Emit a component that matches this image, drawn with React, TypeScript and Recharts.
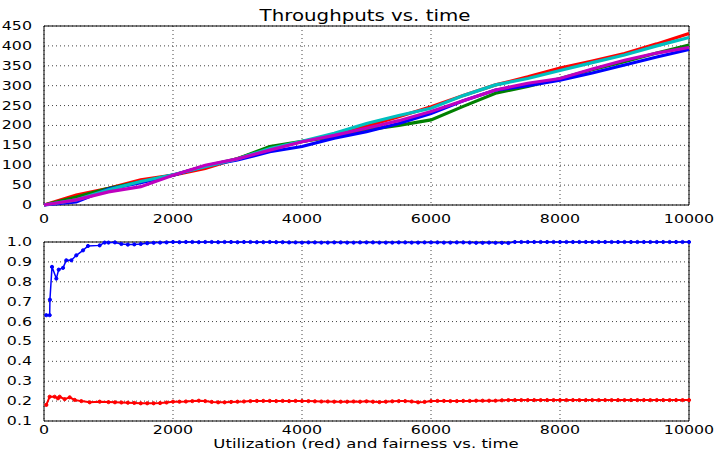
import { LineChart, Line, XAxis, YAxis, CartesianGrid, ReferenceArea } from "recharts";

// top panel: throughput per flow
const time = [0, 500, 1000, 1500, 2000, 2500, 3000, 3500, 4000, 4500, 5000, 5500, 6000, 6500, 7000, 7500, 8000, 8500, 9000, 9500, 10000];
const redTp = [0, 25, 42, 63, 75, 92, 117, 142, 159, 176, 198, 222, 247, 275, 302, 322, 344, 362, 381, 405, 431];
const greenTp = [0, 20, 42, 58, 75, 98, 116, 147, 160, 172, 189, 200, 214, 248, 281, 298, 318, 340, 360, 382, 402];
const blueTp = [0, 8, 40, 56, 75, 98, 113, 134, 147, 168, 184, 205, 230, 262, 289, 300, 314, 332, 352, 372, 391];
const cyanTp = [0, 13, 38, 59, 76, 96, 116, 142, 160, 180, 205, 225, 243, 275, 302, 318, 338, 358, 377, 400, 421];
const magentaTp = [0, 13, 33, 46, 75, 100, 116, 138, 159, 175, 193, 212, 235, 262, 289, 306, 318, 342, 364, 382, 396];

// bottom panel: fairness (blue) and utilization (red)
const fairTime = [
  36, 88, 92, 124, 191, 228, 295, 346, 424, 501, 605, 682, 863, 940,
  1000, 1100, 1200, 1300, 1400, 1500, 1600, 1700, 1800, 1900,
  2000, 2100, 2200, 2300, 2400, 2500, 2600, 2700, 2800, 2900,
  3000, 3100, 3200, 3300, 3400, 3500, 3600, 3700, 3800, 3900,
  4000, 4100, 4200, 4300, 4400, 4500, 4600, 4700, 4800, 4900,
  5000, 5100, 5200, 5300, 5400, 5500, 5600, 5700, 5800, 5900,
  6000, 6100, 6200, 6300, 6400, 6500, 6600, 6700, 6800, 6900,
  7000, 7100, 7200, 7300, 7400, 7500, 7600, 7700, 7800, 7900,
  8000, 8100, 8200, 8300, 8400, 8500, 8600, 8700, 8800, 8900,
  9000, 9100, 9200, 9300, 9400, 9500, 9600, 9700, 9800, 9900, 10000,
];
const fairness = [
  0.632, 0.632, 0.71, 0.875, 0.816, 0.861, 0.87, 0.908, 0.908, 0.933, 0.958, 0.98, 0.983, 0.997,
  0.997, 0.998, 0.99, 0.987, 0.988, 0.99, 0.994, 0.996, 0.997, 0.998,
  1.0, 0.999, 1.0, 1.0, 0.999, 1.0, 1.0, 0.999, 1.0, 1.0,
  0.999, 1.0, 1.0, 0.999, 0.999, 1.0, 0.999, 0.999, 0.998, 0.998,
  0.997, 0.998, 0.998, 0.997, 0.997, 0.998, 0.998, 0.997, 0.997, 0.998,
  0.998, 0.998, 0.997, 0.997, 0.997, 0.998, 0.998, 0.997, 0.997, 0.998,
  0.998, 0.998, 0.997, 0.997, 0.998, 0.998, 0.997, 0.996, 0.996, 0.997,
  0.996, 0.996, 0.995, 1.0, 1.0, 1.0, 1.0, 1.0, 1.0, 1.0,
  1.0, 1.0, 1.0, 1.0, 1.0, 1.0, 1.0, 1.0, 1.0, 1.0,
  1.0, 1.0, 1.0, 1.0, 1.0, 1.0, 1.0, 1.0, 1.0, 1.0, 1.0,
];
const utilTime = [
  36, 88, 165, 217, 243, 320, 398, 476, 579, 708, 863,
  1000, 1100, 1200, 1300, 1400, 1500, 1600, 1700, 1800, 1900,
  2000, 2100, 2200, 2300, 2400, 2500, 2600, 2700, 2800, 2900,
  3000, 3100, 3200, 3300, 3400, 3500, 3600, 3700, 3800, 3900,
  4000, 4100, 4200, 4300, 4400, 4500, 4600, 4700, 4800, 4900,
  5000, 5100, 5200, 5300, 5400, 5500, 5600, 5700, 5800, 5900,
  6000, 6100, 6200, 6300, 6400, 6500, 6600, 6700, 6800, 6900,
  7000, 7100, 7200, 7300, 7400, 7500, 7600, 7700, 7800, 7900,
  8000, 8100, 8200, 8300, 8400, 8500, 8600, 8700, 8800, 8900,
  9000, 9100, 9200, 9300, 9400, 9500, 9600, 9700, 9800, 9900, 10000,
];
const utilization = [
  0.181, 0.222, 0.222, 0.214, 0.222, 0.21, 0.219, 0.206, 0.2, 0.194, 0.197,
  0.195, 0.194, 0.193, 0.192, 0.191, 0.189, 0.189, 0.189, 0.19, 0.193,
  0.197, 0.197, 0.198, 0.2, 0.202, 0.2, 0.196, 0.194, 0.194, 0.196,
  0.197, 0.198, 0.2, 0.201, 0.201, 0.201, 0.2, 0.201, 0.2, 0.201,
  0.2, 0.2, 0.199, 0.198, 0.198, 0.197, 0.197, 0.197, 0.198, 0.197,
  0.199, 0.197, 0.195, 0.197, 0.199, 0.2, 0.2, 0.198, 0.194, 0.196,
  0.2, 0.201, 0.201, 0.2, 0.2, 0.201, 0.201, 0.202, 0.202, 0.202,
  0.202, 0.204, 0.205, 0.205, 0.205, 0.205, 0.205, 0.205, 0.205, 0.205,
  0.205, 0.205, 0.205, 0.205, 0.205, 0.205, 0.205, 0.205, 0.205, 0.205,
  0.205, 0.205, 0.205, 0.205, 0.205, 0.205, 0.205, 0.205, 0.205, 0.205, 0.205,
];

const xTicks = [0, 2000, 4000, 6000, 8000, 10000];
const tpTicks = [0, 50, 100, 150, 200, 250, 300, 350, 400, 450];
const fairTicks = [0.1, 0.2, 0.3, 0.4, 0.5, 0.6, 0.7, 0.8, 0.9, 1.0];

const FONT = "DejaVu Sans";
const STRETCH = 1.32;

const topData = time.map((t, i) => ({
  t,
  r: redTp[i],
  g: greenTp[i],
  b: blueTp[i],
  c: cyanTp[i],
  m: magentaTp[i],
}));
const fairData = fairTime.map((t, i) => ({ t, v: fairness[i] }));
const utilData = utilTime.map((t, i) => ({ t, v: utilization[i] }));

function XTick(props: any) {
  const { x, y, payload, shift = 10 } = props;
  return (
    <text transform={`translate(${x},${y + shift}) scale(${STRETCH},1)`} textAnchor="middle" fontSize={12} fontFamily={FONT} fill="#000">
      {payload.value}
    </text>
  );
}

function YTick(props: any) {
  const { x, y, payload, digits } = props;
  const label = digits ? Number(payload.value).toFixed(digits) : payload.value;
  return (
    <text transform={`translate(${x},${y + 4}) scale(${STRETCH},1)`} textAnchor="end" fontSize={12} fontFamily={FONT} fill="#000">
      {label}
    </text>
  );
}

const colors = { r: "#ff0000", g: "#008000", b: "#0000ff", c: "#00bfbf", m: "#bf00bf" };

export default function App() {
  return (
    <div style={{ position: "absolute", left: 0, top: 0, width: 717, height: 452, background: "#fff" }}>
      <LineChart width={717} height={230} data={topData} margin={{ top: 26, right: 28, left: 0, bottom: 0 }}>
        <CartesianGrid stroke="#444" strokeDasharray="1 3" />
        <XAxis dataKey="t" type="number" domain={[0, 10000]} ticks={xTicks} interval={0} height={25} tickLine={false} axisLine={false} tick={<XTick />} />
        <YAxis type="number" domain={[0, 450]} ticks={tpTicks} interval={0} width={44} tickLine={false} axisLine={false} tick={<YTick />} tickMargin={6} />
        {(["r", "g", "b", "c", "m"] as const).map((k) => (
          <Line key={k} dataKey={k} stroke={colors[k]} strokeWidth={3.2} dot={false} isAnimationActive={false} />
        ))}
        <ReferenceArea x1={0} x2={10000} y1={0} y2={450} fill="none" stroke="#000" strokeWidth={1} fillOpacity={0} ifOverflow="visible" />
      </LineChart>
      <LineChart width={717} height={222} margin={{ top: 12, right: 28, left: 0, bottom: 11 }}>
        <CartesianGrid stroke="#444" strokeDasharray="1 3" />
        <XAxis dataKey="t" type="number" domain={[0, 10000]} ticks={xTicks} interval={0} height={20} tickLine={false} axisLine={false} tick={<XTick shift={5} />} allowDuplicatedCategory={false} />
        <YAxis type="number" domain={[0.1, 1.0]} ticks={fairTicks} interval={0} width={44} tickLine={false} axisLine={false} tick={<YTick digits={1} />} tickMargin={6} />
        <Line data={fairData} dataKey="v" stroke="#0000ff" strokeWidth={1.5} dot={{ r: 1.6, fill: "#0000ff", stroke: "#0000ff", strokeWidth: 1 }} isAnimationActive={false} />
        <Line data={utilData} dataKey="v" stroke="#ff0000" strokeWidth={2} dot={{ r: 1.6, fill: "#ff0000", stroke: "#ff0000", strokeWidth: 1 }} isAnimationActive={false} />
        <ReferenceArea x1={0} x2={10000} y1={0.1} y2={1.0} fill="none" stroke="#000" strokeWidth={1} fillOpacity={0} ifOverflow="visible" />
      </LineChart>
      <svg width={717} height={452} style={{ position: "absolute", left: 0, top: 0, pointerEvents: "none" }}>
        <text transform={`translate(365,21) scale(${STRETCH},1)`} textAnchor="middle" fontSize={15} fontFamily={FONT} fill="#000">
          Throughputs vs. time
        </text>
        <text transform={`translate(366,448) scale(${STRETCH},1)`} textAnchor="middle" fontSize={12.5} fontFamily={FONT} fill="#000">
          Utilization (red) and fairness vs. time
        </text>
      </svg>
    </div>
  );
}
